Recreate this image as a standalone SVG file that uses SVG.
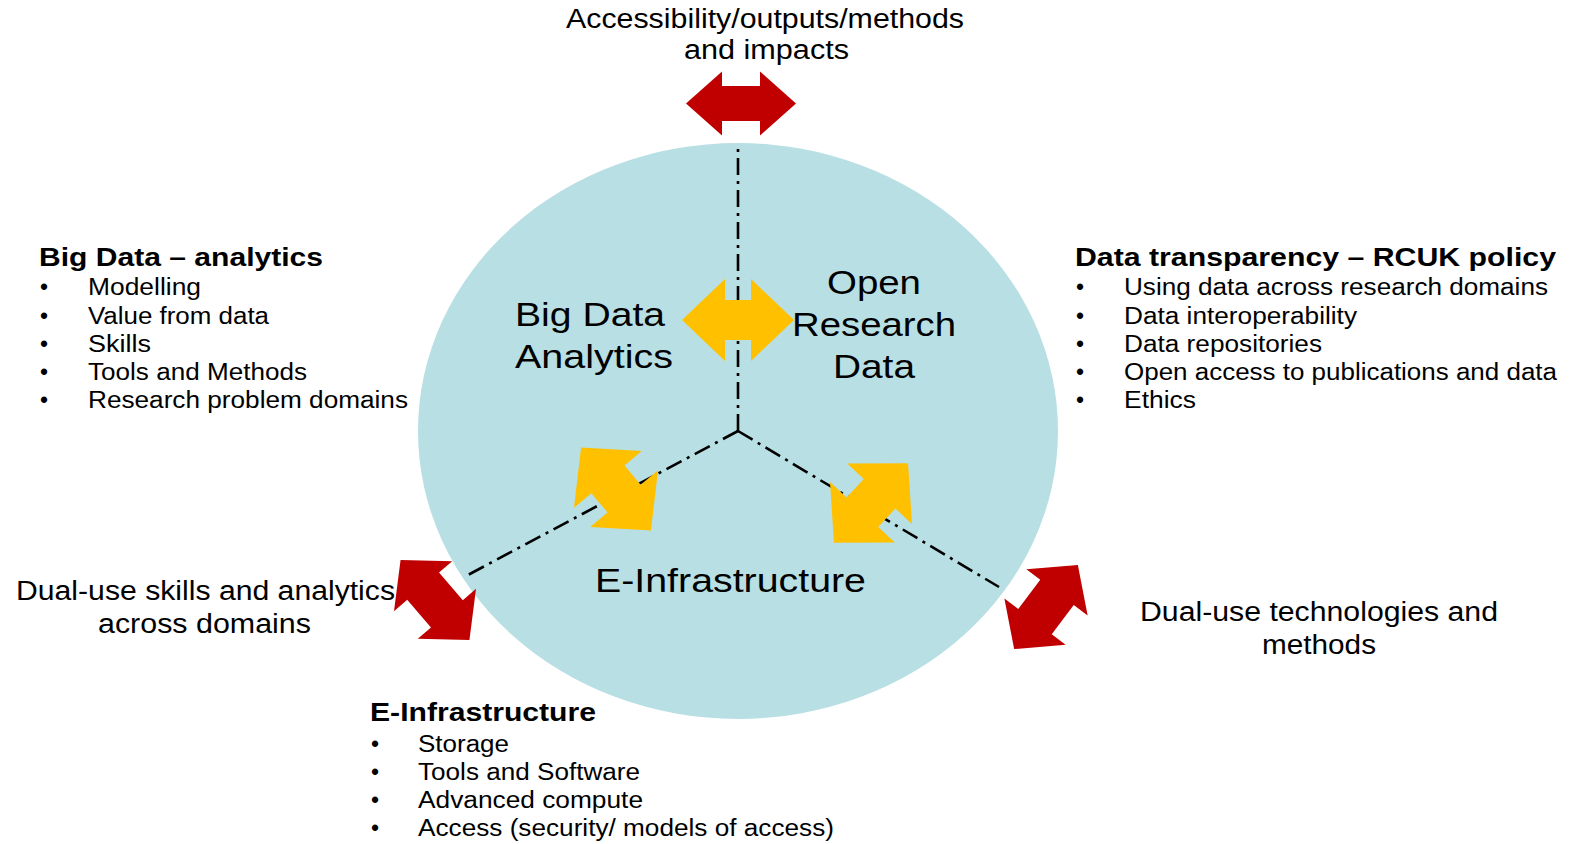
<svg xmlns="http://www.w3.org/2000/svg" width="1575" height="844" viewBox="0 0 1575 844">
<style>
text{font-family:"Liberation Sans",Arial,sans-serif;fill:#000}
.t27{font-size:27px}
.t34{font-size:34px}
.h{font-size:26px;font-weight:bold}
.i{font-size:23px}
.line{fill:none;stroke:#000;stroke-width:2.6;stroke-dasharray:17 6 3 6}
.ya{fill:#FFC000}
.ra{fill:#C00000}
</style>
<defs>
<path id="yarrow" d="M-56 0 L-13 -41 L-13 -20 L13 -20 L13 -41 L56 0 L13 41 L13 20 L-13 20 L-13 41 Z"/>
<path id="rarrow" d="M-55 0 L-19 -32 L-19 -17.5 L19 -17.5 L19 -32 L55 0 L19 32 L19 17.5 L-19 17.5 L-19 32 Z"/>
</defs>
<rect width="1575" height="844" fill="#fff"/>
<g id="circle">
<ellipse cx="738" cy="431" rx="320" ry="288" fill="#B8DFE3"/>
</g>
<g id="connectors">
<path class="line" d="M738 431 L738 143"/>
<path class="line" d="M738 431 L466 576"/>
<path class="line" d="M738 431 L999 587"/>
<use href="#yarrow" class="ya" transform="translate(738,320)"/>
<use href="#yarrow" class="ya" transform="translate(616,489) rotate(50) scale(0.97,1.08)"/>
<use href="#yarrow" class="ya" transform="translate(871,503) rotate(-47) scale(0.97,1.08)"/>
<use href="#rarrow" class="ra" transform="translate(741,103.5)"/>
<use href="#rarrow" class="ra" transform="translate(435,600) rotate(49.3) scale(0.96,1.2)"/>
<use href="#rarrow" class="ra" transform="translate(1046,607) rotate(-52.9) scale(0.96,1.2)"/>
</g>
<g id="node-big-data">
<text class="t34" x="515" y="326" textLength="150" lengthAdjust="spacingAndGlyphs">Big Data</text>
<text class="t34" x="515" y="368" textLength="158" lengthAdjust="spacingAndGlyphs">Analytics</text>
</g>
<g id="node-open-research-data">
<text class="t34" x="827" y="294" textLength="94" lengthAdjust="spacingAndGlyphs">Open</text>
<text class="t34" x="792" y="336" textLength="164" lengthAdjust="spacingAndGlyphs">Research</text>
<text class="t34" x="833" y="378" textLength="82" lengthAdjust="spacingAndGlyphs">Data</text>
</g>
<g id="node-e-infrastructure">
<text class="t34" x="595" y="592" textLength="271" lengthAdjust="spacingAndGlyphs">E-Infrastructure</text>
</g>
<g id="label-top">
<text class="t27" x="566" y="28" textLength="398" lengthAdjust="spacingAndGlyphs">Accessibility/outputs/methods</text>
<text class="t27" x="684" y="59" textLength="165" lengthAdjust="spacingAndGlyphs">and impacts</text>
</g>
<g id="label-dual-left">
<text class="t27" x="16" y="600" textLength="379" lengthAdjust="spacingAndGlyphs">Dual-use skills and analytics</text>
<text class="t27" x="98" y="633" textLength="213" lengthAdjust="spacingAndGlyphs">across domains</text>
</g>
<g id="label-dual-right">
<text class="t27" x="1140" y="621" textLength="358" lengthAdjust="spacingAndGlyphs">Dual-use technologies and</text>
<text class="t27" x="1262" y="654" textLength="114" lengthAdjust="spacingAndGlyphs">methods</text>
</g>
<g id="list-big-data">
<text class="h" x="39" y="266" textLength="284" lengthAdjust="spacingAndGlyphs">Big Data – analytics</text>
<text class="i" x="40" y="295">•</text><text class="i" x="88" y="295" textLength="113" lengthAdjust="spacingAndGlyphs">Modelling</text>
<text class="i" x="40" y="323.5">•</text><text class="i" x="88" y="323.5" textLength="181" lengthAdjust="spacingAndGlyphs">Value from data</text>
<text class="i" x="40" y="351.5">•</text><text class="i" x="88" y="351.5" textLength="63" lengthAdjust="spacingAndGlyphs">Skills</text>
<text class="i" x="40" y="379.5">•</text><text class="i" x="88" y="379.5" textLength="219" lengthAdjust="spacingAndGlyphs">Tools and Methods</text>
<text class="i" x="40" y="408">•</text><text class="i" x="88" y="408" textLength="320" lengthAdjust="spacingAndGlyphs">Research problem domains</text>
</g>
<g id="list-data-transparency">
<text class="h" x="1075" y="266" textLength="481" lengthAdjust="spacingAndGlyphs">Data transparency – RCUK policy</text>
<text class="i" x="1076" y="295">•</text><text class="i" x="1124" y="295" textLength="424" lengthAdjust="spacingAndGlyphs">Using data across research domains</text>
<text class="i" x="1076" y="323.5">•</text><text class="i" x="1124" y="323.5" textLength="233" lengthAdjust="spacingAndGlyphs">Data interoperability</text>
<text class="i" x="1076" y="351.5">•</text><text class="i" x="1124" y="351.5" textLength="198" lengthAdjust="spacingAndGlyphs">Data repositories</text>
<text class="i" x="1076" y="379.5">•</text><text class="i" x="1124" y="379.5" textLength="433" lengthAdjust="spacingAndGlyphs">Open access to publications and data</text>
<text class="i" x="1076" y="408">•</text><text class="i" x="1124" y="408" textLength="72" lengthAdjust="spacingAndGlyphs">Ethics</text>
</g>
<g id="list-e-infrastructure">
<text class="h" x="370" y="721" textLength="226" lengthAdjust="spacingAndGlyphs">E-Infrastructure</text>
<text class="i" x="371" y="751.5">•</text><text class="i" x="418" y="751.5" textLength="91" lengthAdjust="spacingAndGlyphs">Storage</text>
<text class="i" x="371" y="779.5">•</text><text class="i" x="418" y="779.5" textLength="222" lengthAdjust="spacingAndGlyphs">Tools and Software</text>
<text class="i" x="371" y="807.5">•</text><text class="i" x="418" y="807.5" textLength="225" lengthAdjust="spacingAndGlyphs">Advanced compute</text>
<text class="i" x="371" y="835.5">•</text><text class="i" x="418" y="835.5" textLength="416" lengthAdjust="spacingAndGlyphs">Access (security/ models of access)</text>
</g>
</svg>
